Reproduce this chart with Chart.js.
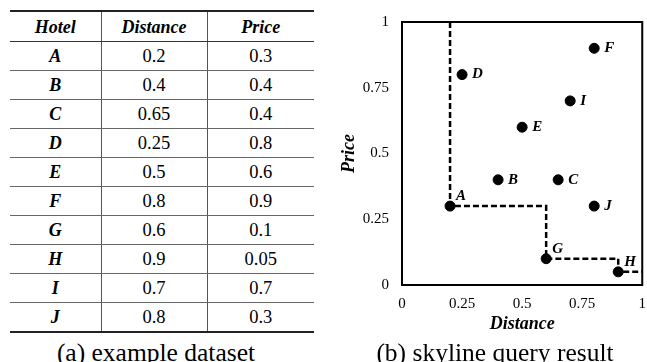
<!DOCTYPE html>
<html>
<head>
<meta charset="utf-8">
<script src="https://cdn.jsdelivr.net/npm/chart.js@4/dist/chart.umd.min.js"></script>
<style>
  html, body { margin:0; padding:0; background:#fff; }
  body { width:647px; height:362px; overflow:hidden; position:relative; color:#000;
         font-family:'Liberation Serif','Times New Roman',serif; }
  #tbl { position:absolute; left:10px; top:10px; width:304px; border-collapse:collapse; table-layout:fixed; }
  #tbl th, #tbl td { text-align:center; padding:0; height:28px; font-size:18.5px; line-height:20px;
                     border-bottom:1px solid #666; }
  #tbl th { font-weight:bold; font-style:italic; font-size:18px; border-bottom:1.5px solid #333; height:29px; }
  #tbl tr:first-child th { border-top:2px solid #222; }
  #tbl tr:last-child td { border-bottom:2px solid #222; }
  #tbl th + th, #tbl td + td { border-left:1px solid #555; }
  #tbl td:first-child { font-weight:bold; font-style:italic; font-size:18px; }
  .cap { position:absolute; top:340px; font-size:25.5px; line-height:26px; text-align:center; white-space:nowrap; }
  #capA { left:0; width:312px; }
  #capB { left:340px; width:310px; }
  #box { position:absolute; left:336px; top:0; width:320px; height:362px; }
</style>
</head>
<body>
<table id="tbl"></table>
<div class="cap" id="capA">(a) example dataset</div>
<div id="box"><canvas id="sky"></canvas></div>
<div class="cap" id="capB">(b) skyline query result</div>
<script>
// hotels with their distance and price
const hotels   = ['A', 'B', 'C', 'D', 'E', 'F', 'G', 'H', 'I', 'J'];
const distance = ['0.2', '0.4', '0.65', '0.25', '0.5', '0.8', '0.6', '0.9', '0.7', '0.8'];
const price    = ['0.3', '0.4', '0.4', '0.8', '0.6', '0.9', '0.1', '0.05', '0.7', '0.3'];
const skyline  = ['A', 'G', 'H'];
const colHeads = ['Hotel', 'Distance', 'Price'];
const tickLabels = ['0', '0.25', '0.5', '0.75', '1'];

// table (a)
const tbl = document.getElementById('tbl');
tbl.innerHTML =
  '<colgroup><col style="width:91px"><col style="width:106px"><col style="width:107px"></colgroup>' +
  '<tr>' + colHeads.map(h => `<th>${h}</th>`).join('') + '</tr>' +
  hotels.map((h, i) => `<tr><td>${h}</td><td>${distance[i]}</td><td>${price[i]}</td></tr>`).join('');

// chart (b)
const pts = hotels.map((h, i) => ({ x: +distance[i], y: +price[i] }));
const sky = skyline.map(h => pts[hotels.indexOf(h)]);
// staircase: from top edge down to first skyline hotel, across to the right edge
const stairs = [{ x: sky[0].x, y: 1 }, ...sky, { x: 1, y: sky[sky.length - 1].y }];

const SERIF = "'Liberation Serif','Times New Roman',serif";
Chart.defaults.font.family = SERIF;
Chart.defaults.color = '#000';

const frame = {
  id: 'frame',
  afterDraw(chart) {
    const { ctx, chartArea: a } = chart;
    ctx.save();
    ctx.strokeStyle = '#000';
    ctx.lineWidth = 2;
    ctx.strokeRect(a.left, a.top, a.right - a.left, a.bottom - a.top);
    ctx.restore();
  }
};

const letters = {
  id: 'letters',
  afterDatasetsDraw(chart) {
    const { ctx } = chart;
    const meta = chart.getDatasetMeta(1);
    ctx.save();
    ctx.font = `italic bold 15px ${SERIF}`;
    ctx.fillStyle = '#000';
    ctx.textAlign = 'left';
    ctx.textBaseline = 'middle';
    meta.data.forEach((el, i) => {
      const h = hotels[i];
      if (skyline.includes(h)) ctx.fillText(h, el.x + 6, el.y - 10);
      else ctx.fillText(h, el.x + 10, el.y);
    });
    ctx.restore();
  }
};

new Chart(document.getElementById('sky'), {
  type: 'scatter',
  data: {
    datasets: [
      { type: 'line', data: stairs, stepped: 'before', borderColor: '#000', borderWidth: 2.5,
        borderDash: [6, 3], pointRadius: 0, fill: false },
      { data: pts, backgroundColor: '#000', borderColor: '#000', pointRadius: 5, pointHoverRadius: 5 }
    ]
  },
  options: {
    responsive: true,
    maintainAspectRatio: false,
    animation: false,
    events: [],
    layout: { padding: { left: 0, right: 12, top: 17, bottom: 27 } },
    plugins: { legend: { display: false }, tooltip: { enabled: false } },
    scales: {
      x: {
        type: 'linear', min: 0, max: 1,
        grid: { display: false, drawTicks: false }, border: { display: false },
        ticks: { stepSize: 0.25, autoSkip: false, maxRotation: 0, padding: 10,
                 font: { size: 15 }, callback: (v, i) => tickLabels[i] },
        title: { display: true, text: 'Distance', padding: 0,
                 font: { size: 18, weight: 'bold', style: 'italic' } },
        afterFit: s => { s.height = 50; }
      },
      y: {
        type: 'linear', min: 0, max: 1,
        grid: { display: false, drawTicks: false }, border: { display: false },
        ticks: { stepSize: 0.25, autoSkip: false, padding: 13,
                 font: { size: 15 }, callback: (v, i) => tickLabels[i] },
        title: { display: true, text: 'Price', padding: { top: 3, bottom: 0 },
                 font: { size: 18, weight: 'bold', style: 'italic' } },
        afterFit: s => { s.width = 66; }
      }
    }
  },
  plugins: [frame, letters]
});
</script>
</body>
</html>
